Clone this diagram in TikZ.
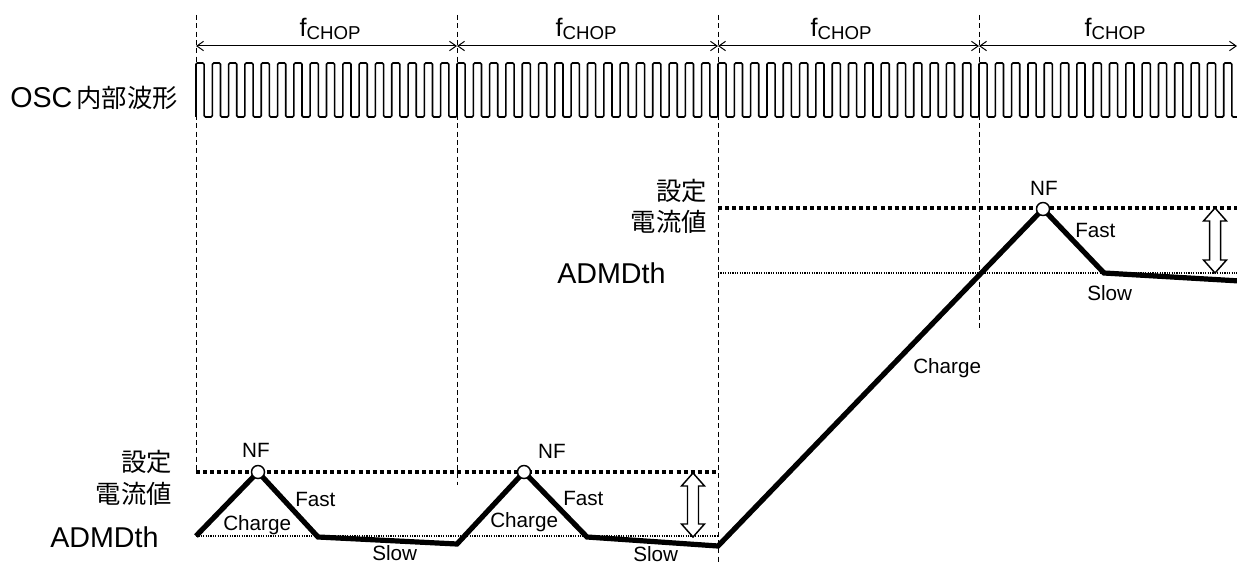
\documentclass[tikz,border=0pt]{standalone}
\usepackage{fontspec}
\setmainfont{Liberation Sans}
\newfontfamily\jp{Noto Sans CJK JP}
\usetikzlibrary{arrows.meta}
\newcommand\dblarrow[3]{%
  \draw[darrow] (#1,#2) -- ({#1+11.5},{#2+13}) -- ({#1+5.5},{#2+13}) -- ({#1+5.5},{#3-13})
    -- ({#1+11.5},{#3-13}) -- (#1,#3) -- ({#1-11.5},{#3-13}) -- ({#1-5.5},{#3-13})
    -- ({#1-5.5},{#2+13}) -- ({#1-11.5},{#2+13}) -- cycle;}
\newcommand\fchop{{\fontsize{19}{22}\selectfont f}\raisebox{-1.8pt}{\fontsize{14}{16}\selectfont CHOP}}
\begin{document}
\begin{tikzpicture}[x=0.75pt,y=-0.75pt,
  vdash/.style={line width=0.75pt, dash pattern=on 3.75pt off 2.5pt},
  setlvl/.style={line width=2.4pt, dash pattern=on 3pt off 2.3pt},
  thlvl/.style={line width=0.9pt, dash pattern=on 0.9pt off 0.9pt},
  wave/.style={line width=1.2pt, rounded corners=1pt},
  chop/.style={line width=0.75pt, {Straight Barb[length=5pt,width=7pt]}-{Straight Barb[length=5pt,width=7pt]}},
  cur/.style={line width=3.9pt},
  nf/.style={circle, draw, fill=white, line width=1.1pt, minimum size=9.75pt, inner sep=0pt},
  big/.style={font=\fontsize{21.5}{24}\selectfont, inner sep=0pt},
  cjk/.style={font=\jp\fontsize{19}{22}\selectfont, inner sep=0pt},
  small/.style={font=\fontsize{15.5}{18}\selectfont, inner sep=0pt},
  chopl/.style={inner sep=0pt, anchor=base},
  darrow/.style={line width=1.1pt, fill=white}
]
\useasboundingbox (0,0) rectangle (1237,563);

% vertical dashed lines
\coordinate (v0t) at (196,15);  \coordinate (v0b) at (196,474);
\coordinate (v1t) at (457,15);  \coordinate (v1b) at (457,485);
\coordinate (v2t) at (718,15);  \coordinate (v2b) at (718,563);
\coordinate (v3t) at (979,15);  \coordinate (v3b) at (979,328);
\coordinate (rend) at (1237,46);
\foreach \i in {0,1,2,3} \draw[vdash] (v\i t) -- (v\i b);

% level lines
\coordinate (s1a) at (196,472); \coordinate (s1b) at (718,472);
\coordinate (t1a) at (196,536); \coordinate (t1b) at (718,536);
\coordinate (s2a) at (718,208); \coordinate (s2b) at (1237,208);
\coordinate (t2a) at (718,273); \coordinate (t2b) at (1237,273);
\draw[setlvl] (s1a) -- (s1b);
\draw[thlvl] (t1a) -- (t1b);
\draw[setlvl] (s2a) -- (s2b);
\draw[thlvl] (t2a) -- (t2b);

% OSC square wave
\draw[wave] (196,117) \foreach \i in {0,...,63} {
  -- ({196+\i*16.3125},63) -- ({196+(\i+0.5)*16.3125},63)
  -- ({196+(\i+0.5)*16.3125},117) -- ({196+(\i+1)*16.3125},117) };

% fCHOP arrows
\coordinate (c0) at (196,46); \coordinate (c1) at (457,46);
\coordinate (c2) at (718,46); \coordinate (c3) at (979,46);
\draw[chop] (c0) -- (c1);
\draw[chop] (c1) -- (c2);
\draw[chop] (c2) -- (c3);
\draw[chop] (c3) -- (rend);
\node[chopl] (fc0) at (330,37) {\fchop};
\node[chopl] (fc1) at (586,37) {\fchop};
\node[chopl] (fc2) at (841,37) {\fchop};
\node[chopl] (fc3) at (1115,37) {\fchop};

% current waveform
\coordinate (a0) at (196,536);
\coordinate (a1) at (258,472);
\coordinate (a2) at (318,537);
\coordinate (a3) at (457,544);
\coordinate (a4) at (524,472);
\coordinate (a5) at (587,537);
\coordinate (a6) at (718,546);
\coordinate (a7) at (1043,209);
\coordinate (a8) at (1104,273);
\coordinate (a9) at (1240,281);
\draw[cur] (a0) -- (a1) -- (a2) -- (a3) -- (a4) -- (a5) -- (a6) -- (a7) -- (a8) -- (a9);
\node[nf] (p1) at (a1) {};
\node[nf] (p2) at (a4) {};
\node[nf] (p3) at (a7) {};

% difference arrows
\dblarrow{693}{473}{537}
\dblarrow{1215}{208}{273}

% left labels
\node[big, anchor=base west] (osc) at (10,108) {OSC\hspace{3pt}{\jp\fontsize{19}{22}\selectfont 内部波形}};
\node[cjk, anchor=base east] (set1a) at (172,471) {設定};
\node[cjk, anchor=base east] (set1b) at (172,503) {電流値};
\node[big, anchor=base west] (adm1) at (50,547) {ADMDth};
\node[cjk, anchor=base east] (set2a) at (707,200) {設定};
\node[cjk, anchor=base east] (set2b) at (707,231) {電流値};
\node[big, anchor=base west] (adm2) at (557,283) {ADMDth};

% waveform labels
\node[small, anchor=base] (nf1) at (256,457) {NF};
\node[small, anchor=base] (nf2) at (552,458) {NF};
\node[small, anchor=base] (nf3) at (1044,195) {NF};
\node[small, anchor=base west] (fa1) at (295,506) {Fast};
\node[small, anchor=base west] (fa2) at (563,505) {Fast};
\node[small, anchor=base west] (fa3) at (1075,237) {Fast};
\node[small, anchor=base west] (ch1) at (223,530) {Charge};
\node[small, anchor=base west] (ch2) at (490,527) {Charge};
\node[small, anchor=base west] (ch3) at (913,373) {Charge};
\node[small, anchor=base west] (sl1) at (372,560) {Slow};
\node[small, anchor=base west] (sl2) at (633,561) {Slow};
\node[small, anchor=base west] (sl3) at (1087,300) {Slow};
\end{tikzpicture}
\end{document}
